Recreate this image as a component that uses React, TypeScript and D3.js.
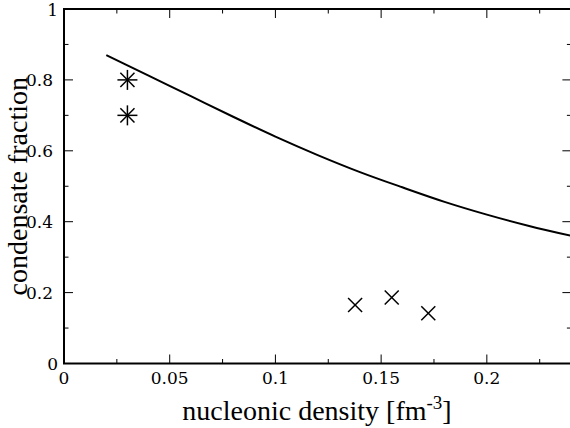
import React from "react";
import * as d3 from "d3";

const lineX = [0.02, 0.04, 0.06, 0.08, 0.1, 0.12, 0.14, 0.16, 0.18, 0.2, 0.22, 0.24];
const lineY = [0.87, 0.812, 0.754, 0.696, 0.64, 0.588, 0.54, 0.497, 0.456, 0.42, 0.388, 0.36];
const starX = [0.03, 0.03];
const starY = [0.8, 0.7];
const crossX = [0.1377, 0.155, 0.1723];
const crossY = [0.165, 0.186, 0.142];
const xMajor = [0, 0.05, 0.1, 0.15, 0.2];
const xMajorLabels = ["0", "0.05", "0.1", "0.15", "0.2"];
const xMinor = [0.025, 0.075, 0.125, 0.175, 0.225];
const yMajor = [0, 0.2, 0.4, 0.6, 0.8, 1];
const yMajorLabels = ["0", "0.2", "0.4", "0.6", "0.8", "1"];
const yMinor = [0.1, 0.3, 0.5, 0.7, 0.9];

export default function App() {
  const L = 64, R = 571.4, T = 9, B = 363.5;
  const x = d3.scaleLinear().domain([0, 0.24]).range([L, R]);
  const y = d3.scaleLinear().domain([0, 1]).range([B, T]);
  const line = d3.line<number>().x((_, i) => x(lineX[i])).y((d) => y(d)).curve(d3.curveMonotoneX);
  const font = "Liberation Serif";
  const numFont = "DejaVu Serif";
  const maj = 9, min = 4.5;
  const tickStroke = "#000";
  return (
    <svg width={570} height={428} style={{ position: "absolute", left: 0, top: 0, background: "#fff" }}>
      <rect x={0} y={0} width={570} height={428} fill="#fff" />
      {xMajor.map((v) => (
        <g key={"xm" + v}>
          <line x1={x(v)} x2={x(v)} y1={B} y2={B - maj} stroke={tickStroke} strokeWidth={1} />
          <line x1={x(v)} x2={x(v)} y1={T} y2={T + maj} stroke={tickStroke} strokeWidth={1} />
        </g>
      ))}
      {xMinor.map((v) => (
        <g key={"xn" + v}>
          <line x1={x(v)} x2={x(v)} y1={B} y2={B - min} stroke={tickStroke} strokeWidth={1} />
          <line x1={x(v)} x2={x(v)} y1={T} y2={T + min} stroke={tickStroke} strokeWidth={1} />
        </g>
      ))}
      {yMajor.map((v) => (
        <g key={"ym" + v}>
          <line x1={L} x2={L + maj} y1={y(v)} y2={y(v)} stroke={tickStroke} strokeWidth={1} />
          <line x1={R} x2={R - maj} y1={y(v)} y2={y(v)} stroke={tickStroke} strokeWidth={1} />
        </g>
      ))}
      {yMinor.map((v) => (
        <g key={"yn" + v}>
          <line x1={L} x2={L + min} y1={y(v)} y2={y(v)} stroke={tickStroke} strokeWidth={1} />
          <line x1={R} x2={R - min} y1={y(v)} y2={y(v)} stroke={tickStroke} strokeWidth={1} />
        </g>
      ))}
      <rect x={L} y={T} width={R - L} height={B - T} fill="none" stroke="#000" strokeWidth={2} />
      {xMajor.map((v, i) => (
        <text key={"xl" + v} x={x(v)} y={384} textAnchor="middle" fontFamily={numFont} fontSize={17} fill="#000">
          {xMajorLabels[i]}
        </text>
      ))}
      {yMajor.map((v, i) => (
        <text key={"yl" + v} x={yMajorLabels[i].length > 1 ? 53 : 58} y={y(v) + 6.5} textAnchor="end" fontFamily={numFont} fontSize={17} fill="#000">
          {yMajorLabels[i]}
        </text>
      ))}
      <text x={317} y={420} textAnchor="middle" fontFamily={font} fontSize={28} fill="#000">
        nucleonic density [fm<tspan dy={-11} fontSize={19}>-3</tspan><tspan dy={11}>]</tspan>
      </text>
      <text transform={`translate(27,${(T + B) / 2}) rotate(-90)`} textAnchor="middle" fontFamily={font} fontSize={28} fill="#000">
        condensate fraction
      </text>
      <path d={line(lineY) || ""} fill="none" stroke="#000" strokeWidth={2} />
      {starX.map((v, i) => {
        const cx = x(v), cy = y(starY[i]), s = 10, d = 7.07;
        return (
          <g key={"s" + i} stroke="#000" strokeWidth={1.5}>
            <line x1={cx - s} x2={cx + s} y1={cy} y2={cy} />
            <line x1={cx} x2={cx} y1={cy - s} y2={cy + s} />
            <line x1={cx - d} x2={cx + d} y1={cy - d} y2={cy + d} />
            <line x1={cx - d} x2={cx + d} y1={cy + d} y2={cy - d} />
          </g>
        );
      })}
      {crossX.map((v, i) => {
        const cx = x(v), cy = y(crossY[i]), s = 7;
        return (
          <g key={"c" + i} stroke="#000" strokeWidth={1.5}>
            <line x1={cx - s} x2={cx + s} y1={cy - s} y2={cy + s} />
            <line x1={cx - s} x2={cx + s} y1={cy + s} y2={cy - s} />
          </g>
        );
      })}
    </svg>
  );
}
